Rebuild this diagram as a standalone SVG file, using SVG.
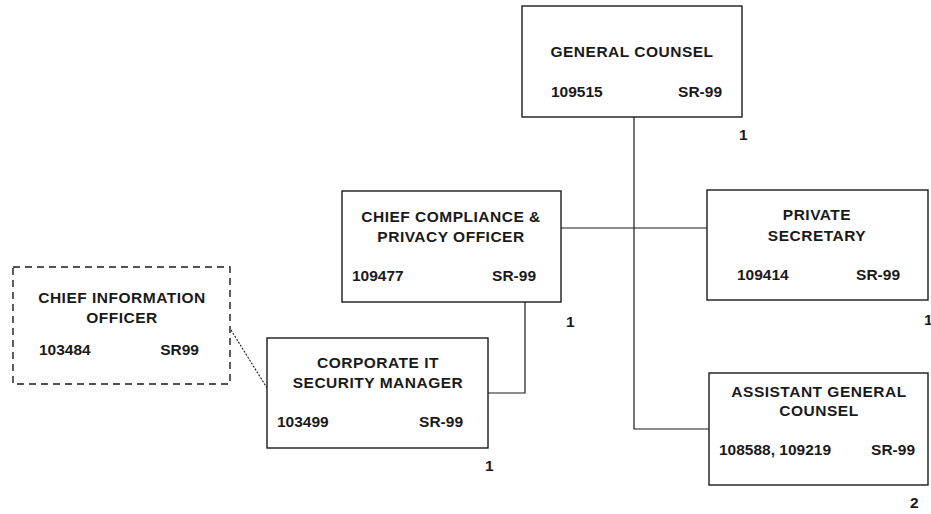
<svg xmlns="http://www.w3.org/2000/svg" width="931" height="514" viewBox="0 0 931 514">
<style>
.box{fill:#fff;stroke:#1a1a1a;stroke-width:1.4}
.dash{fill:#fff;stroke:#1a1a1a;stroke-width:1.4;stroke-dasharray:7,5}
.con{fill:none;stroke:#1a1a1a;stroke-width:1.2}
.dot{fill:none;stroke:#1a1a1a;stroke-width:1.1;stroke-dasharray:2,1.5}
text{font-family:"Liberation Sans",Arial,sans-serif;font-weight:bold;font-size:15.5px;fill:#1a1a1a}
.c{text-anchor:middle;letter-spacing:0.5px}
.e{text-anchor:end}
</style>
<rect width="931" height="514" fill="#fff"/>
<g id="connectors">
<path class="con" d="M634,117 V429 H709"/>
<path class="con" d="M561,228 H707"/>
<path class="con" d="M525,302 V393 H488"/>
<path class="dot" d="M231,330 L267,388"/>
</g>
<g id="general-counsel">
<rect class="box" x="522" y="6" width="220" height="111"/>
<text class="c" x="632" y="57">GENERAL COUNSEL</text>
<text x="551" y="97">109515</text>
<text class="e" x="722" y="97">SR-99</text>
<text x="739" y="140">1</text>
</g>
<g id="chief-compliance">
<rect class="box" x="342" y="191" width="219" height="111"/>
<text class="c" x="451" y="222">CHIEF COMPLIANCE &amp;</text>
<text class="c" x="451" y="242">PRIVACY OFFICER</text>
<text x="352" y="281">109477</text>
<text class="e" x="536" y="281">SR-99</text>
<text x="566" y="327">1</text>
</g>
<g id="private-secretary">
<rect class="box" x="707" y="190" width="221" height="110"/>
<text class="c" x="817" y="220">PRIVATE</text>
<text class="c" x="817" y="241">SECRETARY</text>
<text x="737" y="280">109414</text>
<text class="e" x="900" y="280">SR-99</text>
<text x="924" y="325">1</text>
</g>
<g id="chief-information-officer">
<rect class="dash" x="13" y="267" width="217" height="117"/>
<text class="c" x="122" y="303">CHIEF INFORMATION</text>
<text class="c" x="122" y="323">OFFICER</text>
<text x="39" y="355">103484</text>
<text class="e" x="199" y="355">SR99</text>
</g>
<g id="corporate-it-security-manager">
<rect class="box" x="267" y="338" width="221" height="110"/>
<text class="c" x="378" y="368">CORPORATE IT</text>
<text class="c" x="378" y="388">SECURITY MANAGER</text>
<text x="277" y="427">103499</text>
<text class="e" x="463" y="427">SR-99</text>
<text x="485" y="471">1</text>
</g>
<g id="assistant-general-counsel">
<rect class="box" x="709" y="373" width="219" height="112"/>
<text class="c" x="819" y="397">ASSISTANT GENERAL</text>
<text class="c" x="819" y="416">COUNSEL</text>
<text x="719" y="455">108588, 109219</text>
<text class="e" x="915" y="455">SR-99</text>
<text x="910" y="508">2</text>
</g>
</svg>
